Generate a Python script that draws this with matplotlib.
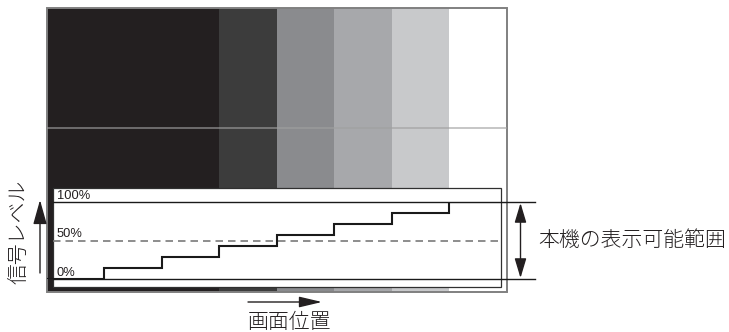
import matplotlib
matplotlib.use("Agg")
import matplotlib.pyplot as plt
from matplotlib.patches import Rectangle

# ---- data ----
column_colors = ['#231f20', '#3c3c3c', '#8a8b8e', '#a7a8ab', '#c8c9cb', '#ffffff']
column_units = [3, 1, 1, 1, 1, 1]          # width of each grey column in screen-position units
step_positions = [0, 1, 2, 3, 4, 5, 6, 7, 8]
signal_levels = [0, 14.3, 28.6, 42.9, 57.1, 71.4, 85.7, 100]   # % per step
ref_levels = [100, 50, 0]
ref_labels = ['100%', '50%', '0%']
range_label = '本機の表示可能範囲'
x_label = '画面位置'
y_label = '信号レベル'

W, H = 729, 332
fig = plt.figure(figsize=(W / 100, H / 100), dpi=100)

def px_axes(x0, y0, x1, y1, **kw):
    return fig.add_axes([x0 / W, 1 - y1 / H, (x1 - x0) / W, (y1 - y0) / H], **kw)

# full-figure pixel axes for annotations
ax = px_axes(0, 0, W, H)
ax.set_xlim(0, W); ax.set_ylim(H, 0); ax.axis('off'); ax.patch.set_visible(False)
ax.set_zorder(1)

# image area (grey columns)
IMG = (47, 8, 507, 292)
ax_img = px_axes(*IMG)
ax_img.set_xlim(0, 8); ax_img.set_ylim(0, 1); ax_img.axis('off')
ax_img.set_zorder(0)
left = 0
for w, c in zip(column_units, column_colors):
    ax_img.bar(left, 1, width=w, align='edge', color=c, edgecolor='none')
    left += w
ax_img.axhline((292 - 127.5) / (292 - 8), color='#a0a0a0', lw=1.2, alpha=0.7)
ax_img.add_patch(Rectangle((0, 0), 8, 1, fill=False, edgecolor='#808080', lw=1.4,
                           transform=ax_img.transData, clip_on=False))

# inset white box
ax.add_patch(Rectangle((53, 188), 501 - 53, 287 - 188, facecolor='white',
                       edgecolor='#303030', lw=0.9))

# signal axes
ax_sig = px_axes(47, 202, 507, 279)
ax_sig.set_xlim(0, 8); ax_sig.set_ylim(0, 100); ax_sig.axis('off')
ax_sig.patch.set_visible(False)
ax_sig.set_zorder(2)
ax_sig.stairs(signal_levels, step_positions, baseline=None,
              color='#1a1a1a', lw=1.5)
ax_sig.plot([0.1, 8.49], [100, 100], color='#1a1a1a', lw=1.0, clip_on=False)
ax_sig.plot([0.1, 8.49], [0, 0], color='#1a1a1a', lw=1.0, clip_on=False)
ax_sig.plot([0.1, 7.93], [50, 50], color='#7a7a7a', lw=1.2, ls=(0, (4.5, 3)), clip_on=False)
for lv, lab in zip(ref_levels, ref_labels):
    ax_sig.text(0.17, lv + 4, lab, fontsize=9.3, family='Liberation Sans',
                color='#231f20', va='baseline', ha='left')

# arrows
ax.annotate('', xy=(40, 200), xytext=(40, 273),
            arrowprops=dict(arrowstyle='-|>,head_length=1.5,head_width=0.42', mutation_scale=10,
                            lw=1.0, color='#231f20', shrinkA=0, shrinkB=0))
ax.annotate('', xy=(322, 302), xytext=(248, 302),
            arrowprops=dict(arrowstyle='-|>,head_length=1.4,head_width=0.33', mutation_scale=10,
                            lw=1.0, color='#231f20', shrinkA=0, shrinkB=0))
ax.annotate('', xy=(520.5, 203), xytext=(520.5, 278),
            arrowprops=dict(arrowstyle='<|-|>,head_length=1.2,head_width=0.36', mutation_scale=10,
                            lw=1.0, color='#231f20', shrinkA=0, shrinkB=0))

jp = ['Noto Sans CJK JP', 'DejaVu Sans']
ax.text(632, 240, range_label, fontsize=15, family=jp, fontweight='light',
        color='#231f20', ha='center', va='center')
ax.text(289.5, 322, x_label, fontsize=15, family=jp, fontweight='light',
        color='#231f20', ha='center', va='center')
ax.text(18.5, 232, y_label, fontsize=15, family=jp, fontweight='light', rotation=90,
        color='#231f20', ha='center', va='center')

fig.savefig('out.png', dpi=100)
